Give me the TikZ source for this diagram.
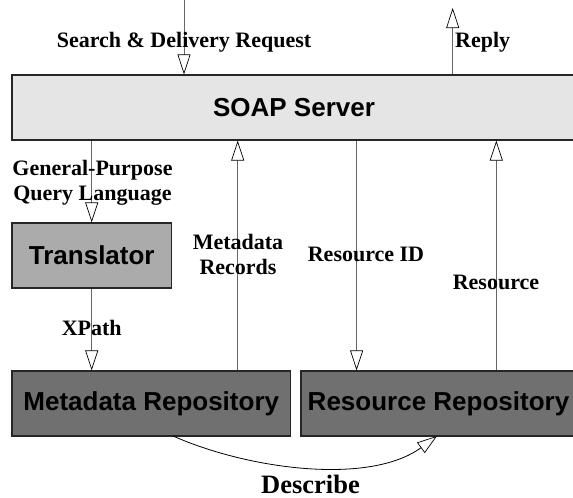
\documentclass[tikz,border=0pt]{standalone}
\usepackage{fontspec}
\setmainfont{Liberation Serif}
\newfontfamily\boxfont{Liberation Sans}
\usetikzlibrary{arrows.meta}
\definecolor{soapgray}{gray}{0.9}
\definecolor{transgray}{gray}{0.67}
\definecolor{repogray}{gray}{0.44}
\definecolor{linegray}{gray}{0.4}
\begin{document}
\begin{tikzpicture}[x=1pt,y=-1pt,
  box/.style={draw=black!85, line width=1.2pt, inner sep=0pt, anchor=center,
    font=\boxfont\bfseries\fontsize{26}{28}\selectfont},
  lab/.style={font=\bfseries\fontsize{22}{25}\selectfont, inner sep=0pt, align=center},
  arr/.style={draw=linegray, line width=0.9pt,
    -{Triangle[length=20pt,width=13pt,fill=white,color=black,line width=0.7pt]}}]
\useasboundingbox (0,0) rectangle (573,498);
\clip (0,0) rectangle (573,498);
% boxes
\node[box, fill=soapgray, minimum width=564pt, minimum height=65pt] (soap) at (294,107.5) {SOAP Server};
\node[box, fill=transgray, minimum width=159.5pt, minimum height=65pt] (trans) at (91.75,255.5) {Translator};
\node[box, fill=repogray, minimum width=278.5pt, minimum height=65pt] (meta) at (151.25,403.5) {Metadata Repository};
\node[box, fill=repogray, minimum width=275pt, minimum height=65pt] (res) at (438.5,403.5) {Resource Repository};
% x positions
\coordinate (xreq) at (184,-3);
\coordinate (xrep) at (452.7,0);
\coordinate (xq) at (91.7,0);
\coordinate (xmr) at (237.7,0);
\coordinate (xrid) at (356.6,0);
\coordinate (xres) at (496.3,0);
\coordinate (reptop) at (452.7,8);
% arrows
\draw[arr] (xreq) -- (xreq |- soap.north);
\draw[arr] (soap.north -| xrep) -- (reptop);
\draw[arr] (soap.south -| xq) -- (trans.north -| xq);
\draw[arr] (trans.south -| xq) -- (meta.north -| xq);
\draw[arr] (meta.north -| xmr) -- (soap.south -| xmr);
\draw[arr] (soap.south -| xrid) -- (res.north -| xrid);
\draw[arr] (res.north -| xres) -- (soap.south -| xres);
\coordinate (dstart) at (173,436);
\coordinate (dend) at (437,436);
\draw[draw=black, line width=0.8pt, -{Triangle[length=20pt,width=13pt,fill=white,color=black,line width=0.7pt]}]
  (dstart) .. controls (250,470) and (370,485) .. (dend);
% labels
\node[lab, anchor=base] (lreq) at (184,47) {Search \& Delivery Request};
\node[lab, anchor=base west] (lrep) at (455,47) {Reply};
\node[lab] (lq) at (92.5,182.4) {General-Purpose\\Query Language};
\node[lab] (lmr) at (238,254) {Metadata\\Records};
\node[lab, anchor=base] (lrid) at (366,261.7) {Resource ID};
\node[lab, anchor=base] (lres) at (496,289) {Resource};
\node[lab, anchor=base] (lx) at (91.7,335) {XPath};
\node[lab, anchor=base, font=\bfseries\fontsize{26.5}{30}\selectfont] (ldes) at (310.5,493) {Describe};
\end{tikzpicture}
\end{document}
